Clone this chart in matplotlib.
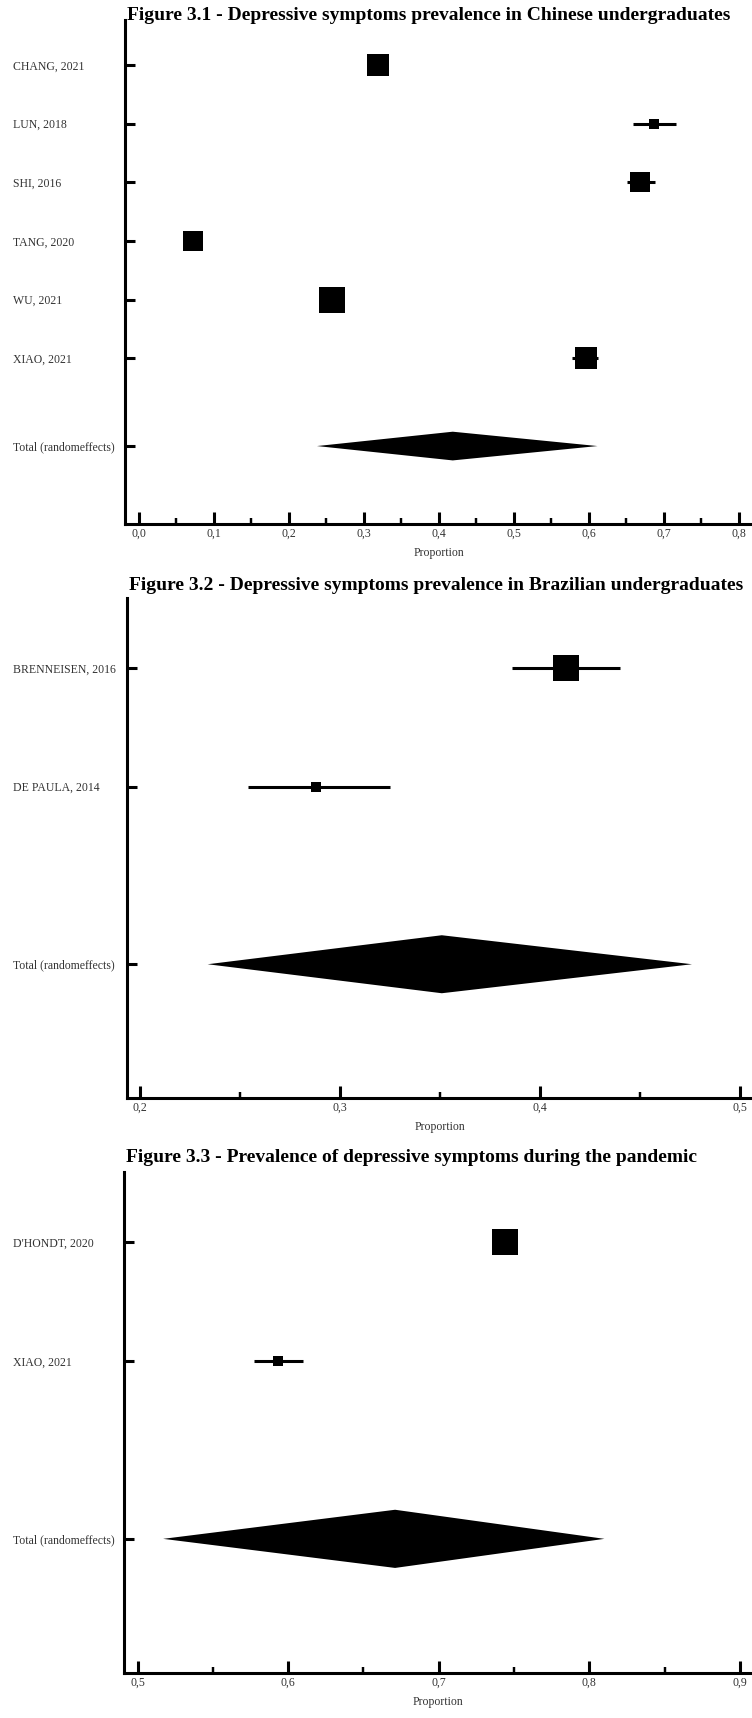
import numpy as np
import matplotlib.pyplot as plt
from matplotlib.ticker import MultipleLocator, FuncFormatter

plt.rcParams['font.family'] = ['Liberation Serif', 'DejaVu Serif']

# Figure 3.1 - Chinese undergraduates
china_studies = ['CHANG, 2021', 'LUN, 2018', 'SHI, 2016', 'TANG, 2020', 'WU, 2021', 'XIAO, 2021']
china_prop = [0.319, 0.687, 0.669, 0.073, 0.258, 0.596]
china_lo = [0.304, 0.659, 0.651, 0.066, 0.250, 0.578]
china_hi = [0.333, 0.716, 0.689, 0.081, 0.267, 0.612]
china_weight = [18.6, 4.2, 16.9, 15.2, 26.4, 18.6]
china_total = [0.238, 0.419, 0.612]   # lower, estimate, upper
china_xticks = [0.0, 0.1, 0.2, 0.3, 0.4, 0.5, 0.6, 0.7, 0.8]

# Figure 3.2 - Brazilian undergraduates
brazil_studies = ['BRENNEISEN, 2016', 'DE PAULA, 2014']
brazil_prop = [0.413, 0.288]
brazil_lo = [0.386, 0.254]
brazil_hi = [0.440, 0.325]
brazil_weight = [86.7, 13.3]
brazil_total = [0.234, 0.351, 0.476]
brazil_xticks = [0.2, 0.3, 0.4, 0.5]

# Figure 3.3 - during the pandemic
pand_studies = ["D'HONDT, 2020", 'XIAO, 2021']
pand_prop = [0.744, 0.593]
pand_lo = [0.737, 0.577]
pand_hi = [0.751, 0.610]
pand_weight = [87.1, 12.9]
pand_total = [0.517, 0.671, 0.810]
pand_xticks = [0.5, 0.6, 0.7, 0.8, 0.9]

W, H = 752, 1718
fig = plt.figure(figsize=(W / 100, H / 100), dpi=100)

LW = 2.2        # ~3 px lines
MAX_SIDE = 25.5  # px, biggest square


def comma(v, pos):
    return ('%.1f' % v).replace('.', ',')


def forest(box, ylim, xlim, title, title_y, studies, prop, lo, hi, weight, total, xticks):
    left, top, right, bottom = box
    ax = fig.add_axes([left / W, 1 - bottom / H, (right - left) / W, (bottom - top) / H])
    rows = list(range(len(studies)))
    total_row = len(studies) + 0.5

    # confidence intervals and weighted squares
    ax.hlines(rows, lo, hi, color='black', lw=LW)
    wmax = max(weight)
    for r, p, w in zip(rows, prop, weight):
        side = MAX_SIDE * np.sqrt(w / wmax)
        ax.plot(p, r, marker='s', ms=side * 0.72, mew=0, color='black')

    # pooled diamond
    lo_t, est_t, hi_t = total
    ax.fill([lo_t, est_t, hi_t, est_t], [total_row, total_row - 0.245, total_row, total_row + 0.245],
            color='black', lw=0)

    ax.set_xlim(*xlim)
    ax.set_ylim(*ylim)
    for s in ['top', 'right']:
        ax.spines[s].set_visible(False)
    for s in ['left', 'bottom']:
        ax.spines[s].set_linewidth(LW)

    ax.set_xticks(xticks)
    ax.xaxis.set_major_formatter(FuncFormatter(comma))
    ax.xaxis.set_minor_locator(MultipleLocator(0.05))
    ax.tick_params(axis='x', which='major', direction='in', length=8.6, width=LW,
                   labelsize=8.5, pad=3, labelcolor='#333333')
    ax.tick_params(axis='x', which='minor', direction='in', length=4.3, width=LW * 0.8)
    ax.set_xlabel('Proportion', fontsize=8.5, color='#333333', labelpad=5)

    ax.set_yticks(rows + [total_row])
    ax.set_yticklabels(studies + ['Total (randomeffects)'])
    ax.tick_params(axis='y', direction='in', length=7.5, width=LW, labelsize=8.5,
                   labelcolor='#333333', pad=(left - 13) * 0.72)
    for t in ax.get_yticklabels():
        t.set_horizontalalignment('left')

    fig.text((left + 2) / W, 1 - title_y / H, title, ha='left', va='center',
             fontsize=14, fontweight='bold')
    return ax


forest((125, 20, 752, 524), (7.83, -0.77), (-0.018, 0.818),
       'Figure 3.1 - Depressive symptoms prevalence in Chinese undergraduates', 15,
       china_studies, china_prop, china_lo, china_hi, china_weight, china_total, china_xticks)

forest((127, 598, 752, 1098), (3.63, -0.594), (0.1937, 0.506),
       'Figure 3.2 - Depressive symptoms prevalence in Brazilian undergraduates', 585,
       brazil_studies, brazil_prop, brazil_lo, brazil_hi, brazil_weight, brazil_total, brazil_xticks)

forest((124, 1172, 752, 1673), (3.63, -0.59), (0.491, 0.908),
       'Figure 3.3 - Prevalence of depressive symptoms during the pandemic', 1157,
       pand_studies, pand_prop, pand_lo, pand_hi, pand_weight, pand_total, pand_xticks)

fig.savefig('out.png', dpi=100)
